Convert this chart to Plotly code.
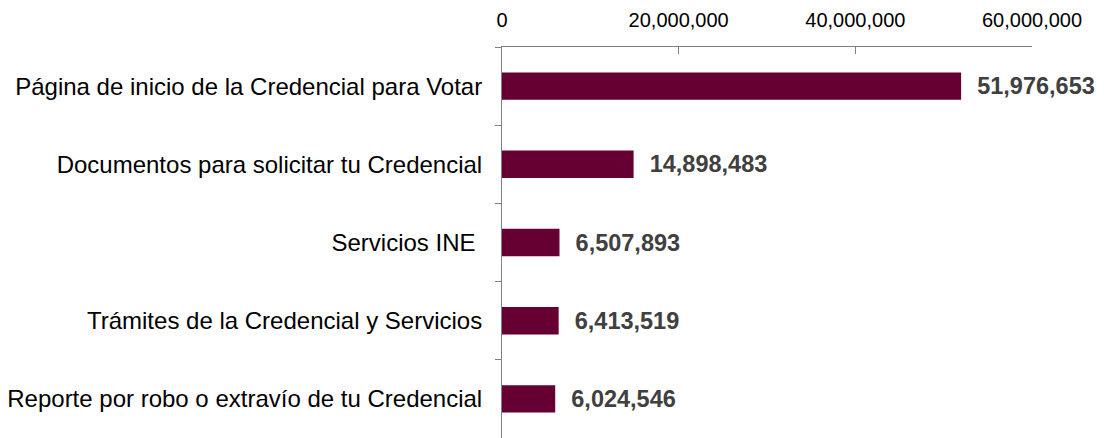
import plotly.graph_objects as go

paginas = [
    'Página de inicio de la Credencial para Votar',
    'Documentos para solicitar tu Credencial',
    'Servicios INE ',
    'Trámites de la Credencial y Servicios',
    'Reporte por robo o extravío de tu Credencial',
]
visitas = [51976653, 14898483, 6507893, 6413519, 6024546]
ticks_x = [0, 20000000, 40000000, 60000000]

fig = go.Figure(go.Bar(
    x=visitas,
    y=paginas,
    orientation='h',
    width=0.35,
    marker=dict(color='#660033', line=dict(width=0)),
    texttemplate='  %{x:,}',
    textposition='outside',
    cliponaxis=False,
    textfont=dict(family='Liberation Sans, Arial', size=23.5, color='#404040', weight='bold'),
))

# la pagina agrega 8px de margen al body, por eso se descuentan aqui
fig.update_layout(
    width=1096, height=430,
    margin=dict(l=494, r=72, t=39, b=0),
    plot_bgcolor='white', paper_bgcolor='white',
    showlegend=False,
    font=dict(family='Liberation Sans, Arial', size=20, color='black'),
)
fig.update_xaxes(
    side='top', range=[0, 60000000], tickvals=ticks_x, tickformat=',',
    showgrid=False, zeroline=False, automargin=False,
    showline=True, linecolor='#808080', linewidth=1,
    ticks='inside', ticklen=7, tickcolor='#808080',
    ticklabelstandoff=11,
    tickfont=dict(size=20),
)
fig.update_yaxes(
    autorange='reversed', showgrid=False, automargin=False,
    showline=True, linecolor='#808080', linewidth=1,
    ticks='outside', tickson='boundaries', ticklen=6, tickcolor='#808080',
    ticklabelstandoff=14,
    tickfont=dict(size=24),
)

fig.write_html('out.html')
